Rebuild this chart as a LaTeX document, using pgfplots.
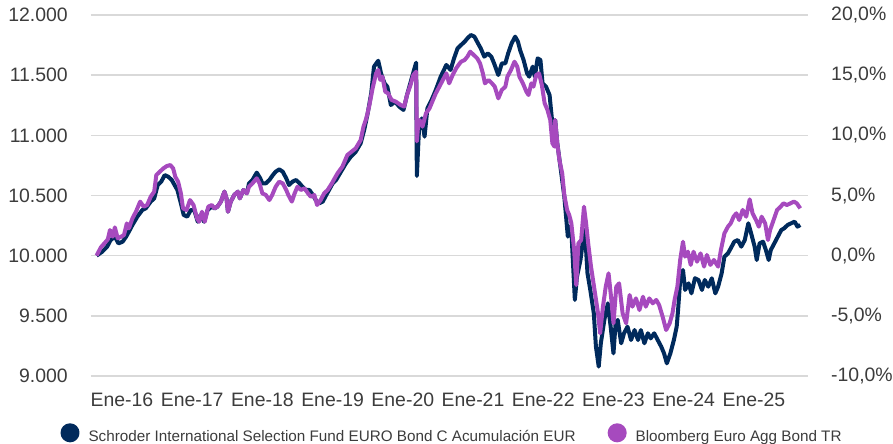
\documentclass[border=0pt]{standalone}
\usepackage{fontspec}
\setmainfont{Liberation Sans}
\usepackage{pgfplots}
\usepackage{pgfplotstable}
\pgfplotsset{compat=1.18}
\definecolor{navy}{RGB}{0,42,92}
\definecolor{violet2}{RGB}{166,74,190}
\definecolor{gridgray}{RGB}{217,217,217}
\definecolor{txt}{RGB}{60,60,60}

\pgfplotstableread{
x y
2015.64 10000
2015.72 10033
2015.79 10075
2015.84 10130
2015.90 10158
2015.95 10102
2016.01 10116
2016.06 10158
2016.10 10200
2016.15 10255
2016.22 10324
2016.29 10379
2016.34 10393
2016.41 10449
2016.46 10476
2016.51 10587
2016.56 10615
2016.61 10670
2016.66 10656
2016.71 10629
2016.75 10587
2016.79 10546
2016.84 10435
2016.88 10338
2016.93 10324
2016.98 10379
2017.03 10379
2017.08 10282
2017.12 10338
2017.17 10282
2017.22 10379
2017.28 10407
2017.32 10393
2017.36 10407
2017.41 10449
2017.46 10532
2017.49 10476
2017.51 10365
2017.55 10449
2017.60 10504
2017.65 10532
2017.68 10476
2017.73 10546
2017.78 10518
2017.81 10601
2017.86 10629
2017.92 10690
2017.97 10643
2018.00 10601
2018.05 10601
2018.10 10629
2018.15 10670
2018.19 10698
2018.24 10717
2018.29 10698
2018.34 10643
2018.38 10587
2018.43 10615
2018.48 10629
2018.53 10601
2018.57 10573
2018.62 10546
2018.67 10546
2018.72 10504
2018.76 10462
2018.81 10435
2018.86 10449
2018.91 10504
2018.95 10546
2019.00 10600
2019.05 10629
2019.12 10698
2019.19 10767
2019.26 10823
2019.33 10864
2019.40 10934
2019.45 11044
2019.50 11183
2019.55 11349
2019.59 11571
2019.65 11620
2019.69 11515
2019.74 11432
2019.78 11404
2019.83 11252
2019.89 11280
2019.95 11238
2020.01 11211
2020.06 11335
2020.12 11460
2020.16 11543
2020.19 11604
2020.20 10662
2020.23 11044
2020.27 11141
2020.31 10989
2020.35 11224
2020.41 11294
2020.47 11377
2020.54 11488
2020.62 11585
2020.68 11543
2020.73 11640
2020.78 11723
2020.83 11751
2020.88 11778
2020.92 11806
2020.97 11834
2021.02 11820
2021.07 11765
2021.11 11723
2021.16 11654
2021.21 11681
2021.26 11654
2021.30 11598
2021.36 11501
2021.41 11598
2021.46 11598
2021.50 11681
2021.55 11765
2021.60 11820
2021.64 11778
2021.67 11709
2021.72 11626
2021.77 11515
2021.80 11488
2021.85 11571
2021.88 11488
2021.92 11640
2021.96 11626
2021.99 11432
2022.04 11404
2022.09 11335
2022.12 11155
2022.15 10989
2022.17 11127
2022.20 10933
2022.24 10760
2022.30 10490
2022.35 10158
2022.37 10240
2022.40 10213
2022.45 9632
2022.48 9825
2022.53 9964
2022.56 10102
2022.59 10213
2022.61 10047
2022.63 9853
2022.67 9715
2022.72 9521
2022.75 9244
2022.79 9078
2022.82 9272
2022.87 9466
2022.92 9604
2022.96 9410
2023.00 9188
2023.03 9438
2023.06 9466
2023.11 9272
2023.15 9355
2023.20 9410
2023.25 9299
2023.30 9382
2023.35 9299
2023.39 9382
2023.44 9272
2023.49 9355
2023.53 9313
2023.58 9355
2023.63 9299
2023.68 9244
2023.72 9188
2023.76 9105
2023.81 9188
2023.86 9299
2023.90 9410
2023.92 9549
2023.95 9798
2023.99 9881
2024.02 9715
2024.07 9770
2024.11 9687
2024.16 9812
2024.21 9798
2024.26 9715
2024.30 9798
2024.35 9742
2024.40 9812
2024.45 9687
2024.49 9742
2024.54 9853
2024.58 9992
2024.63 10019
2024.67 10061
2024.72 10116
2024.77 10130
2024.82 10075
2024.87 10130
2024.92 10269
2024.96 10186
2025.01 10075
2025.04 9964
2025.08 10102
2025.13 10116
2025.17 10047
2025.21 9964
2025.24 10047
2025.29 10102
2025.34 10158
2025.39 10213
2025.43 10227
2025.48 10255
2025.53 10269
2025.58 10283
2025.62 10241
2025.66 10255
}\fund

\pgfplotstableread{
x y
2015.64 10000
2015.70 10069
2015.75 10102
2015.80 10136
2015.83 10213
2015.87 10158
2015.90 10235
2015.94 10144
2015.99 10158
2016.03 10172
2016.07 10268
2016.10 10227
2016.15 10310
2016.20 10365
2016.26 10449
2016.31 10407
2016.36 10421
2016.41 10490
2016.46 10532
2016.49 10670
2016.54 10698
2016.59 10725
2016.64 10745
2016.69 10753
2016.73 10725
2016.76 10656
2016.80 10615
2016.84 10518
2016.87 10393
2016.92 10379
2016.97 10462
2017.02 10421
2017.07 10310
2017.10 10282
2017.14 10365
2017.18 10282
2017.23 10407
2017.28 10421
2017.32 10393
2017.36 10407
2017.41 10449
2017.46 10532
2017.49 10476
2017.51 10365
2017.55 10449
2017.60 10504
2017.65 10532
2017.68 10476
2017.73 10546
2017.78 10518
2017.81 10573
2017.86 10601
2017.92 10643
2017.96 10601
2018.00 10518
2018.05 10504
2018.10 10462
2018.14 10504
2018.19 10573
2018.24 10615
2018.29 10601
2018.34 10546
2018.37 10504
2018.42 10449
2018.46 10518
2018.50 10573
2018.55 10546
2018.60 10560
2018.65 10518
2018.69 10490
2018.74 10504
2018.78 10421
2018.83 10462
2018.88 10518
2018.93 10546
2018.99 10601
2019.03 10643
2019.07 10684
2019.14 10740
2019.21 10836
2019.27 10864
2019.33 10892
2019.40 10961
2019.44 11072
2019.48 11141
2019.52 11238
2019.57 11391
2019.62 11515
2019.65 11543
2019.68 11460
2019.71 11488
2019.75 11363
2019.79 11349
2019.84 11294
2019.90 11280
2019.97 11252
2020.02 11238
2020.06 11335
2020.11 11418
2020.15 11501
2020.19 11529
2020.20 10950
2020.22 11100
2020.24 11127
2020.28 11072
2020.33 11183
2020.38 11224
2020.43 11294
2020.47 11349
2020.52 11404
2020.57 11460
2020.62 11515
2020.66 11432
2020.71 11501
2020.76 11557
2020.80 11590
2020.83 11612
2020.88 11626
2020.92 11654
2020.96 11695
2021.01 11668
2021.06 11640
2021.10 11598
2021.14 11515
2021.17 11432
2021.22 11460
2021.27 11432
2021.31 11404
2021.36 11307
2021.41 11377
2021.46 11404
2021.49 11488
2021.54 11543
2021.59 11612
2021.63 11571
2021.66 11488
2021.71 11432
2021.76 11363
2021.79 11335
2021.83 11432
2021.86 11404
2021.90 11501
2021.94 11515
2021.98 11418
2022.02 11266
2022.06 11211
2022.10 11127
2022.13 10934
2022.16 10906
2022.17 11127
2022.20 10933
2022.23 10795
2022.27 10684
2022.30 10504
2022.34 10379
2022.37 10338
2022.40 10269
2022.44 10047
2022.47 9756
2022.50 10102
2022.54 10130
2022.58 10407
2022.61 10269
2022.64 10102
2022.68 9909
2022.73 9715
2022.78 9521
2022.81 9355
2022.85 9576
2022.89 9742
2022.93 9853
2022.97 9632
2023.00 9438
2023.04 9742
2023.08 9770
2023.13 9521
2023.18 9438
2023.23 9673
2023.27 9576
2023.32 9645
2023.37 9548
2023.42 9659
2023.46 9576
2023.51 9645
2023.56 9604
2023.61 9632
2023.65 9590
2023.70 9493
2023.75 9382
2023.80 9438
2023.84 9521
2023.87 9632
2023.91 9743
2023.95 9964
2023.99 10116
2024.02 9992
2024.06 10033
2024.10 9923
2024.14 10033
2024.19 9950
2024.24 10019
2024.29 9909
2024.33 10006
2024.38 9923
2024.43 9964
2024.49 9909
2024.53 10047
2024.58 10186
2024.63 10241
2024.67 10269
2024.71 10324
2024.75 10352
2024.79 10296
2024.84 10380
2024.89 10324
2024.94 10468
2024.98 10352
2025.03 10296
2025.07 10241
2025.11 10324
2025.16 10269
2025.20 10130
2025.23 10213
2025.28 10296
2025.33 10380
2025.38 10407
2025.42 10435
2025.47 10421
2025.52 10435
2025.57 10449
2025.61 10435
2025.66 10393
}\bench

\begin{document}
\begin{tikzpicture}
\path[use as bounding box] (-91bp,-68bp) rectangle (802bp,376bp);
\begin{axis}[
  at={(0,0)}, anchor=south west,
  scale only axis, width=717bp, height=361bp,
  xmin=2015.56, xmax=2025.77,
  ymin=9000, ymax=12000,
  scaled x ticks=false, scaled y ticks=false,
  axis line style={draw=none},
  major tick length=0pt,
  xtick={2016,2017,2018,2019,2020,2021,2022,2023,2024,2025},
  xticklabels={Ene-16,Ene-17,Ene-18,Ene-19,Ene-20,Ene-21,Ene-22,Ene-23,Ene-24,Ene-25},
  ytick={9000,9500,10000,10500,11000,11500,12000},
  yticklabels={9.000,9.500,10.000,10.500,11.000,11.500,12.000},
  ymajorgrids,
  grid style={gridgray, line width=1.6bp},
  tick label style={font=\fontsize{19.5}{23}\selectfont, text=txt, inner sep=0pt},
  xticklabel style={anchor=north, yshift=-17bp},
  yticklabel style={anchor=east, xshift=-23bp},
  yticklabel pos=left,
  legend columns=2,
  legend style={at={(-0.0425,-0.158)}, anchor=west, draw=none, fill=none,
    inner sep=0pt, outer sep=0pt,
    font=\fontsize{15.3}{18}\selectfont, text=txt,
    nodes={inner sep=0pt},
    /tikz/every odd column/.append style={column sep=9bp},
    /tikz/every even column/.append style={column sep=32bp}},
  legend image code/.code={\fill[#1] (7.5bp,0.36em) circle (7.5bp);},
]
\addplot[navy, line width=4bp, line join=round] table[x=x,y=y] {\fund};
\addlegendentry{Schroder International Selection Fund EURO Bond C Acumulación EUR}
\addplot[violet2, line width=4bp, line join=round] table[x=x,y=y] {\bench};
\addlegendentry{Bloomberg Euro Agg Bond TR}
\end{axis}
\begin{axis}[
  at={(0,0)}, anchor=south west,
  scale only axis, width=717bp, height=361bp,
  xmin=2015.56, xmax=2025.77,
  ymin=-10, ymax=20,
  scaled x ticks=false, scaled y ticks=false,
  axis line style={draw=none},
  major tick length=0pt,
  xtick=\empty,
  ytick={-10,-5,0,5,10,15,20},
  yticklabels={{-10,0\%},{-5,0\%},{0,0\%},{5,0\%},{10,0\%},{15,0\%},{20,0\%}},
  yticklabel pos=right,
  tick label style={font=\fontsize{19.5}{23}\selectfont, text=txt, inner sep=0pt},
  yticklabel style={anchor=west, xshift=23bp},
]
\end{axis}
\end{tikzpicture}
\end{document}
